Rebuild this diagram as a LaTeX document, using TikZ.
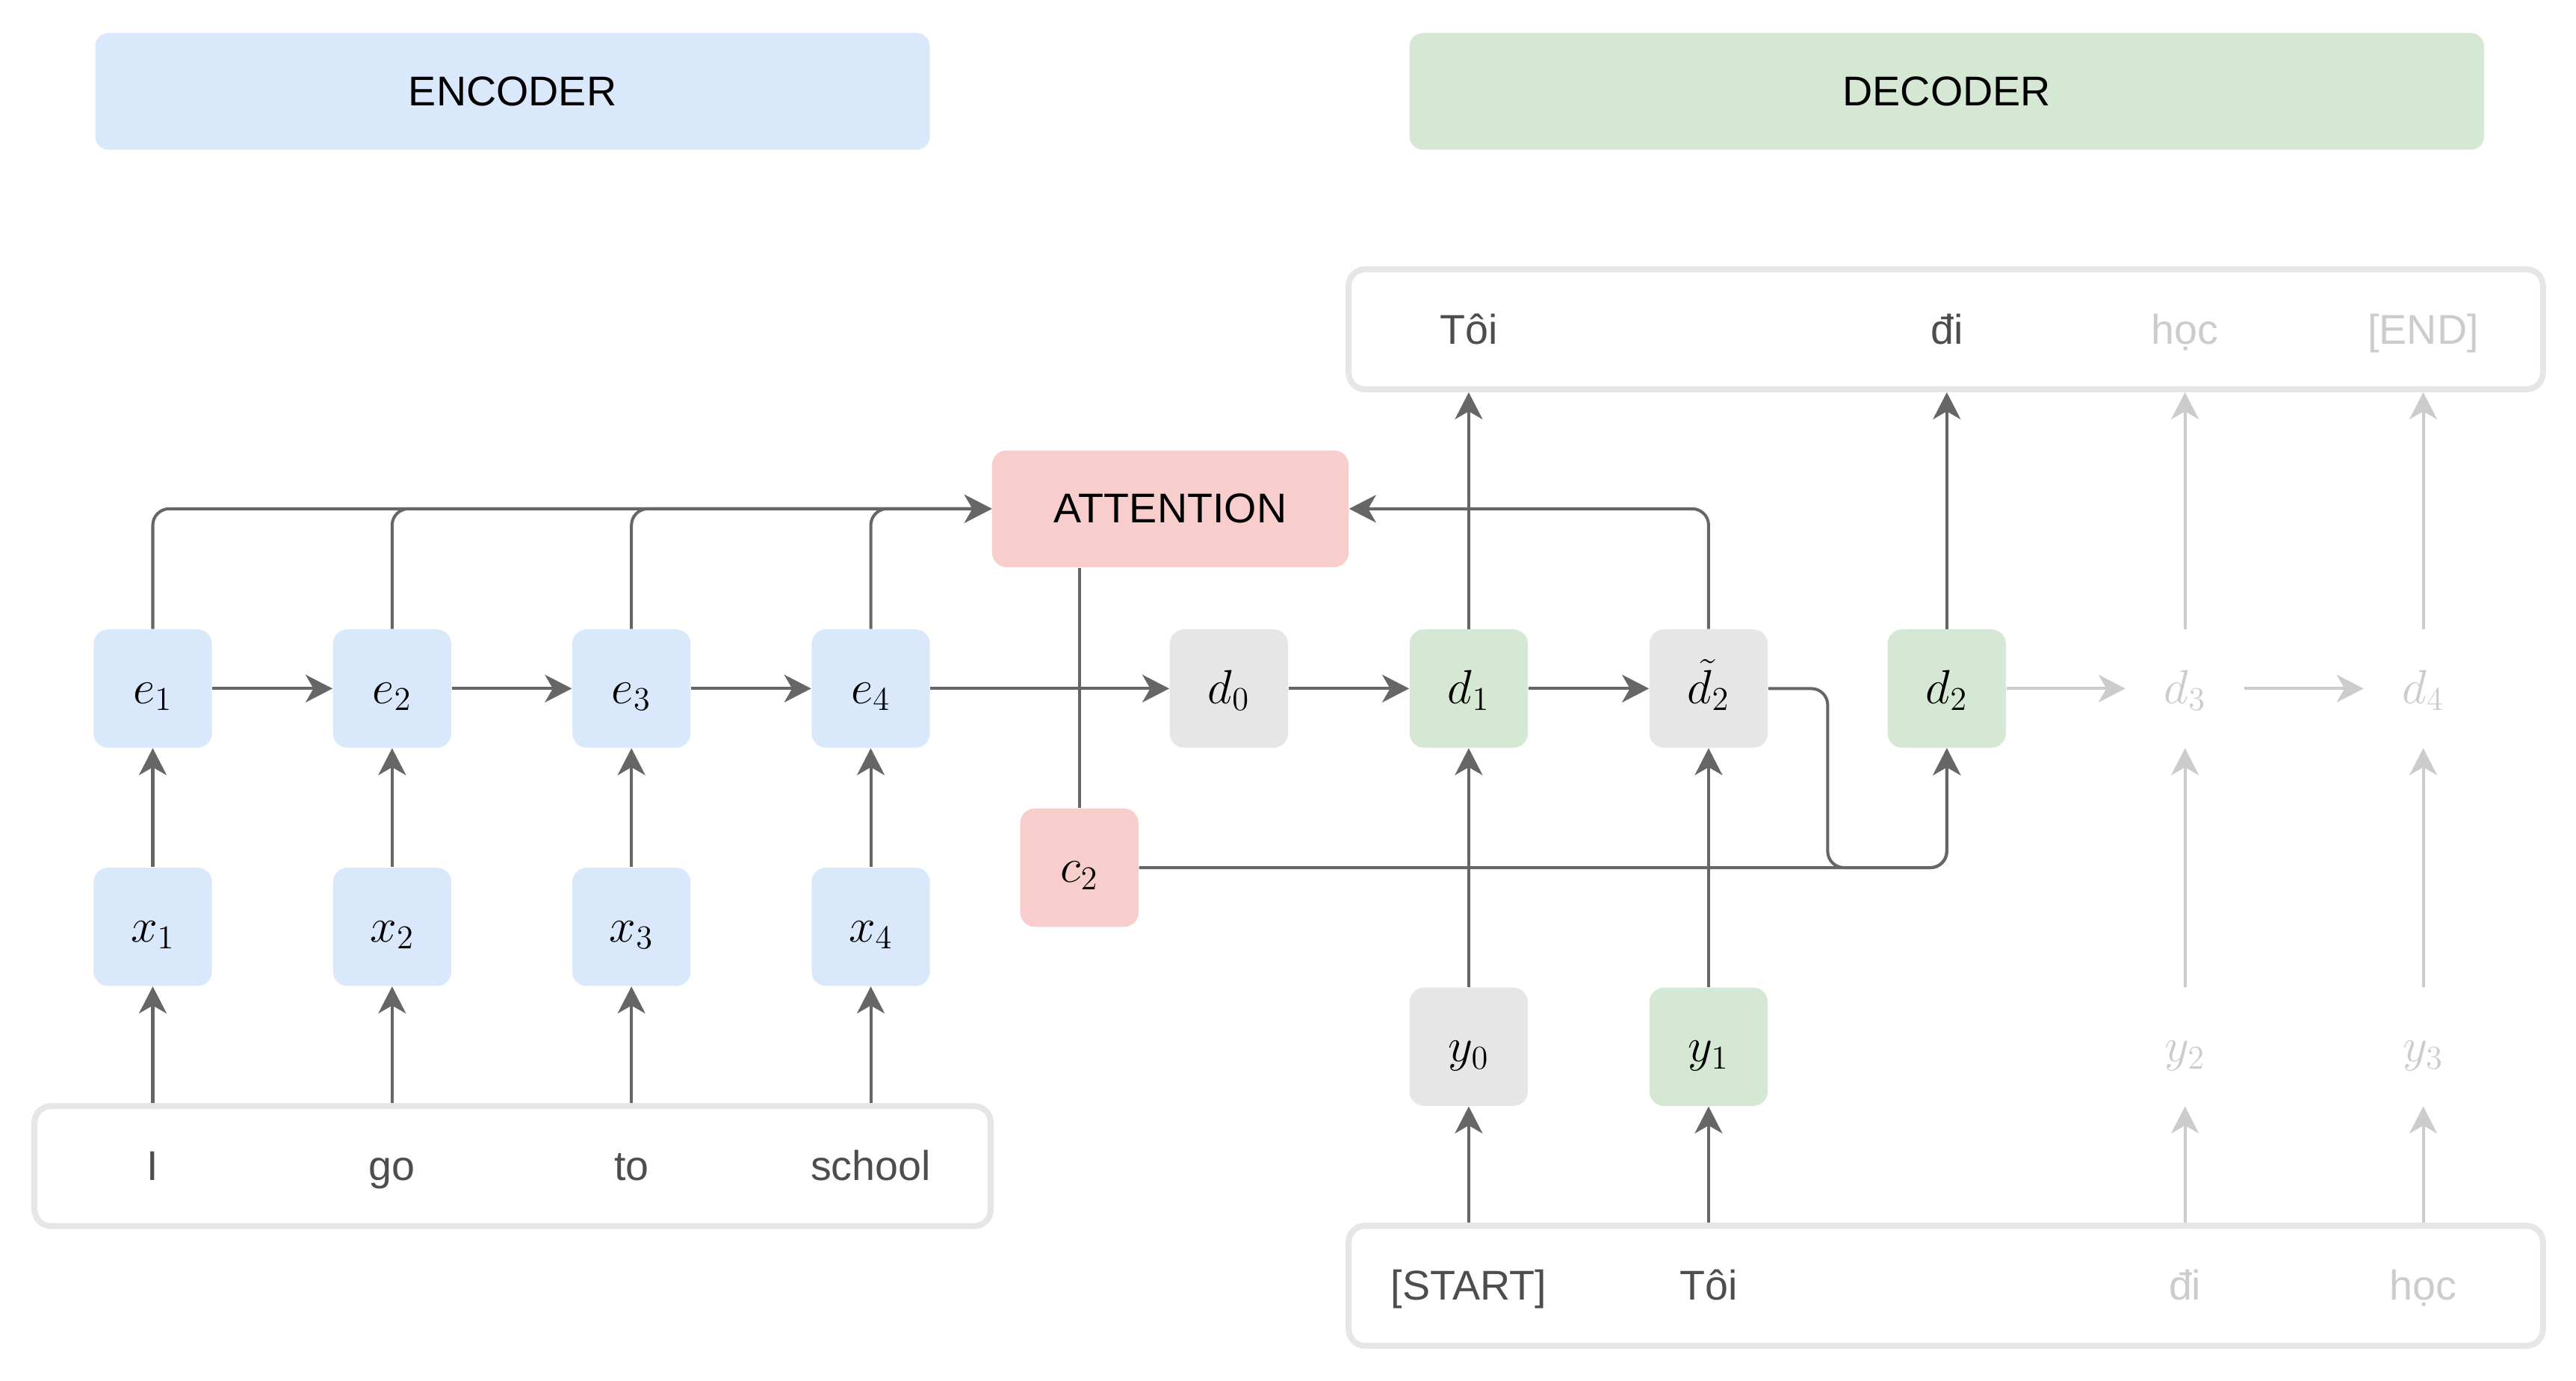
\documentclass[tikz,border=0pt]{standalone}
\usepackage{fontspec}
\setmainfont{Liberation Sans}
\usepackage{xcolor}
\definecolor{encc}{HTML}{DAE8FC}
\definecolor{decc}{HTML}{D5E8D4}
\definecolor{attc}{HTML}{F8CECC}
\definecolor{neuc}{HTML}{E6E6E6}
\definecolor{linec}{HTML}{666666}
\definecolor{fadec}{HTML}{CCCCCC}
\definecolor{wordc}{HTML}{4D4D4D}
\usepackage{tikz}
\usetikzlibrary{arrows.meta,positioning,calc}
\tikzset{
  >={Stealth[length=4.1mm,width=4.2mm,inset=1.2mm]},
  cell/.style={rounded corners=2.2mm,minimum width=18mm,minimum height=18mm,inner sep=0pt,text height=5.5mm,text depth=1mm,font=\fontsize{22}{26}\selectfont},
  ecell/.style={cell,fill=encc},
  gcell/.style={cell,fill=decc},
  rcell/.style={cell,fill=attc},
  ncell/.style={cell,fill=neuc},
  ghost/.style={cell,text=fadec},
  hdr/.style={rounded corners=2mm,minimum height=17.75mm,font=\fontsize{18}{22}\selectfont},
  frame/.style={draw=neuc,line width=2.6pt,rounded corners=2.5mm,minimum height=18.25mm},
  word/.style={font=\fontsize{18}{22}\selectfont,text=wordc,text height=5.4mm,text depth=1mm},
  fword/.style={word,text=fadec},
  ptr/.style={->,line width=1.3pt,draw=linec,rounded corners=2.5mm},
  fptr/.style={ptr,draw=fadec},
}

\begin{document}
\begin{tikzpicture}
  \useasboundingbox (0,0) rectangle (39.2,-21);
  % headers and frames
  \node[hdr,fill=encc,minimum width=12.7cm] (enc) at (7.8,-1.39) {ENCODER};
  \node[hdr,fill=decc,minimum width=16.35cm] (dec) at (29.625,-1.39) {DECODER};
  \node[frame,minimum width=14.55cm] (srcbox) at (7.8,-17.74) {};
  \node[frame,minimum width=18.175cm] (inbox) at (29.61,-19.56) {};
  \node[frame,minimum width=18.175cm] (outbox) at (29.61,-5.01) {};
  \node[rcell,minimum width=5.425cm,minimum height=17.75mm,text height=,text depth=,font=\fontsize{18}{22}\selectfont] (att) at (17.81,-7.74) {ATTENTION};
  % encoder
  \foreach \w [count=\k] in {I,go,to,school} {
    \node[word] (w\k) at ({2.325+(\k-1)*3.642},-17.74) {\w};
    \node[ecell] (x\k) at ({2.325+(\k-1)*3.642},-14.1) {$x_\k$};
    \node[ecell] (e\k) at ({2.325+(\k-1)*3.642},-10.475) {$e_\k$};
    \draw[ptr] (srcbox.north -| x\k) -- (x\k);
    \draw[ptr] (x\k) -- (e\k);
    \draw[ptr] (e\k.north) |- (att.west);
  }
  \foreach \k [count=\n from 2] in {1,2,3} \draw[ptr] (e\k) -- (e\n);
  % decoder
  \node[ncell] (d0) at (18.7,-10.475) {$d_0$};
  \node[gcell] (d1) at (22.35,-10.475) {$d_1$};
  \node[ncell] (dt) at (26.0,-10.475) {$\tilde{d}_2$};
  \node[gcell] (d2) at (29.625,-10.475) {$d_2$};
  \node[ghost] (d3) at (33.25,-10.475) {$d_3$};
  \node[ghost] (d4) at (36.875,-10.475) {$d_4$};
  \node[rcell] (c2) at (16.425,-13.2) {$c_2$};
  \node[ncell] (y0) at (22.35,-15.925) {$y_0$};
  \node[gcell] (y1) at (26.0,-15.925) {$y_1$};
  \node[ghost] (y2) at (33.25,-15.925) {$y_2$};
  \node[ghost] (y3) at (36.875,-15.925) {$y_3$};
  \node[word] (i0) at (22.35,-19.56) {[START]};
  \node[word] (i1) at (26.0,-19.56) {Tôi};
  \node[fword] (i2) at (33.25,-19.56) {đi};
  \node[fword] (i3) at (36.875,-19.56) {học};
  \node[word] (o1) at (22.35,-5.01) {Tôi};
  \node[word] (o2) at (29.625,-5.01) {đi};
  \node[fword] (o3) at (33.25,-5.01) {học};
  \node[fword] (o4) at (36.875,-5.01) {[END]};
  \coordinate (bend) at ($(dt.east)!.5!(d2.west)$);
  \draw[ptr] (e4) -- (d0);
  \draw[ptr] (d0) -- (d1);
  \draw[ptr] (d1) -- (dt);
  \draw[fptr] (d2) -- (d3);
  \draw[fptr] (d3) -- (d4);
  \draw[ptr] (inbox.north -| y0) -- (y0);
  \draw[ptr] (inbox.north -| y1) -- (y1);
  \draw[fptr] (inbox.north -| y2) -- (y2);
  \draw[fptr] (inbox.north -| y3) -- (y3);
  \draw[ptr] (y0) -- (d1);
  \draw[ptr] (y1) -- (dt);
  \draw[fptr] (y2) -- (d3);
  \draw[fptr] (y3) -- (d4);
  \draw[ptr] (d1) -- (d1 |- outbox.south);
  \draw[ptr] (d2) -- (d2 |- outbox.south);
  \draw[fptr] (d3) -- (d3 |- outbox.south);
  \draw[fptr] (d4) -- (d4 |- outbox.south);
  \draw[ptr] (dt.north) |- (att.east);
  \draw[ptr,-] (att.south -| c2) -- (c2);
  \draw[ptr] (c2) -| (d2);
  \draw[ptr] (dt) -| (bend |- c2) -| (d2);
\end{tikzpicture}
\end{document}
